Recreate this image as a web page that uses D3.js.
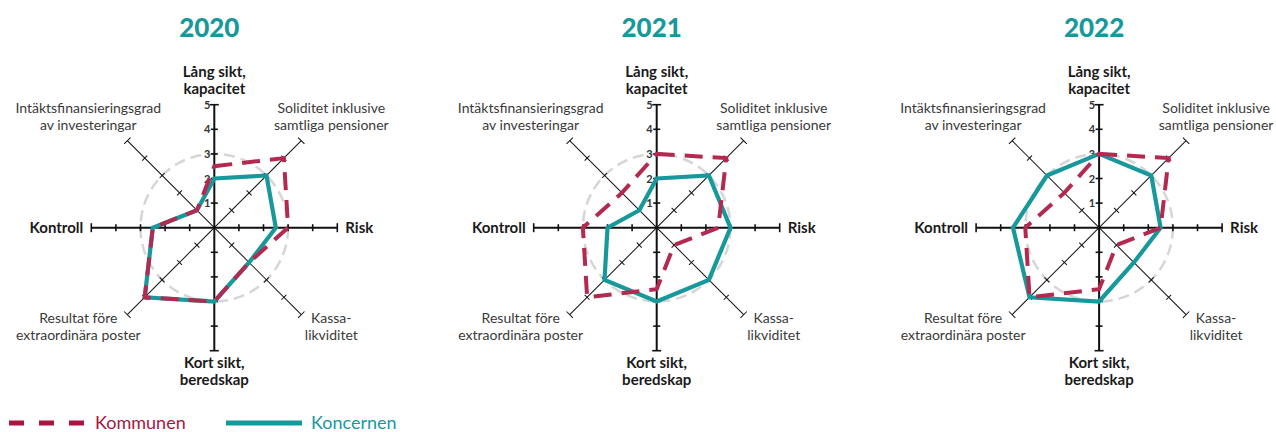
<!DOCTYPE html>
<html>
<head>
<meta charset="utf-8">
<script src="https://cdn.jsdelivr.net/npm/d3@7"></script>
<style>
  body { margin: 0; background: #fff; }
  text { font-family: Lato, "Noto Sans", sans-serif; }
</style>
</head>
<body>
<div id="chart"></div>
<script>
// Chart data
var years = ["2020", "2021", "2022"];
var axisLabels = [
    ["Lång sikt,", "kapacitet"],
    ["Soliditet inklusive", "samtliga pensioner"],
    ["Risk"],
    ["Kassa-", "likviditet"],
    ["Kort sikt,", "beredskap"],
    ["Resultat före", "extraordinära poster"],
    ["Kontroll"],
    ["Intäktsfinansieringsgrad", "av investeringar"]
];
var kommunen = [
    [2.5, 4, 3, 2, 3, 4, 2.5, 1],
    [3, 4, 2.5, 1, 2.5, 4, 3, 2],
    [3, 4, 2.5, 1, 2.5, 4, 3, 2]
];
var koncernen = [
    [2, 3, 2.5, 2, 3, 4, 2.5, 1],
    [2, 3, 3, 3, 3, 3, 2, 1],
    [3, 3, 2.5, 2, 3, 4, 3.5, 3]
];
var tickValues = [1, 2, 3, 4, 5];
var seriesNames = ["Kommunen", "Koncernen"];

// Define SVG area dimensions
var svgWidth = 1276;
var svgHeight = 432;

var teal = "#17999c";
var red = "#b3294f";

var svg = d3.select("#chart")
    .append("svg")
    .attr("width", svgWidth)
    .attr("height", svgHeight);

// Radius scale: 0..5 over the axis length
var rScale = d3.scaleLinear().domain([0, 5]).range([0, 123]);
var angle = function (i) { return i * Math.PI / 4; };

// Label placement relative to the chart centre
var labelPos = [
    { x: 0, y: -151, anchor: "middle" },
    { x: 117, y: -114.5, anchor: "middle" },
    { x: 131, y: 5, anchor: "start" },
    { x: 117, y: 95.5, anchor: "middle" },
    { x: 0, y: 140.5, anchor: "middle" },
    { x: -136, y: 95.5, anchor: "middle" },
    { x: -131, y: 5, anchor: "end" },
    { x: -126, y: -114.5, anchor: "middle" }
];

var line = d3.lineRadial()
    .angle(function (d, i) { return angle(i); })
    .radius(function (d) { return rScale(d); })
    .curve(d3.curveLinearClosed);

years.forEach(function (year, k) {
    var cx = 214.3 + k * 442.4;
    var cy = 227.7;
    var g = svg.append("g").attr("transform", `translate(${cx}, ${cy})`);

    // Title
    svg.append("text")
        .attr("x", cx - 5)
        .attr("y", 36.5)
        .attr("text-anchor", "middle")
        .style("font-size", "26px")
        .style("font-weight", "900")
        .attr("fill", teal)
        .text(year);

    // Grey reference circle at 3
    g.append("circle")
        .attr("r", rScale(3))
        .attr("fill", "none")
        .attr("stroke", "#d6d6d6")
        .attr("stroke-width", 2.5)
        .attr("stroke-dasharray", "11,6");

    // Axes with ticks
    axisLabels.forEach(function (lab, i) {
        var main = i % 2 === 0;
        var ag = g.append("g").attr("transform", `rotate(${i * 45})`);
        ag.append("line")
            .attr("x1", 0).attr("y1", 0)
            .attr("x2", 0).attr("y2", -rScale(5))
            .attr("stroke", "#111")
            .attr("stroke-width", main ? 2 : 1);
        ag.selectAll("line.tick")
            .data(tickValues)
            .enter()
            .append("line")
            .attr("class", "tick")
            .attr("x1", function (d) { return d === 5 ? -4.5 : -3.5; })
            .attr("x2", function (d) { return d === 5 ? 4.5 : 3.5; })
            .attr("y1", function (d) { return -rScale(d); })
            .attr("y2", function (d) { return -rScale(d); })
            .attr("stroke", "#111")
            .attr("stroke-width", main ? 1.6 : 1);

        // Axis labels
        var p = labelPos[i];
        var t = g.append("text")
            .attr("text-anchor", p.anchor)
            .style("font-size", main ? "15px" : "14px")
            .style("font-weight", main ? "bold" : "normal")
            .attr("fill", main ? "#1a1a1a" : "#3a3a3a");
        lab.forEach(function (s, j) {
            t.append("tspan")
                .attr("x", p.x)
                .attr("y", p.y + j * 16.8)
                .text(s);
        });
    });

    // Tick numbers on the upper vertical axis
    g.selectAll("text.num")
        .data(tickValues)
        .enter()
        .append("text")
        .attr("class", "num")
        .attr("x", -4)
        .attr("y", function (d) { return -rScale(d) + 4; })
        .attr("text-anchor", "end")
        .style("font-size", "11px")
        .style("font-weight", "bold")
        .attr("fill", "#333")
        .text(function (d) { return d; });

    // Koncernen (solid)
    g.append("path")
        .attr("d", line(koncernen[k]))
        .attr("fill", "none")
        .attr("stroke", teal)
        .attr("stroke-width", 4.2)
        .attr("stroke-linejoin", "miter");

    // Kommunen (dashed)
    g.append("path")
        .attr("d", line(kommunen[k]))
        .attr("fill", "none")
        .attr("stroke", red)
        .attr("stroke-width", 4)
        .attr("stroke-dasharray", "18,10");
});

// Legend
var legend = svg.append("g").attr("transform", "translate(0, 423)");
legend.append("line")
    .attr("x1", 9).attr("x2", 84)
    .attr("stroke", "#a8163f")
    .attr("stroke-width", 5)
    .attr("stroke-dasharray", "15,15");
legend.append("text")
    .attr("x", 95).attr("y", 5.5)
    .style("font-size", "18px")
    .attr("fill", "#a8163f")
    .text(seriesNames[0]);
legend.append("line")
    .attr("x1", 226).attr("x2", 302)
    .attr("stroke", teal)
    .attr("stroke-width", 5);
legend.append("text")
    .attr("x", 311).attr("y", 5.5)
    .style("font-size", "18px")
    .attr("fill", teal)
    .text(seriesNames[1]);
</script>
</body>
</html>
